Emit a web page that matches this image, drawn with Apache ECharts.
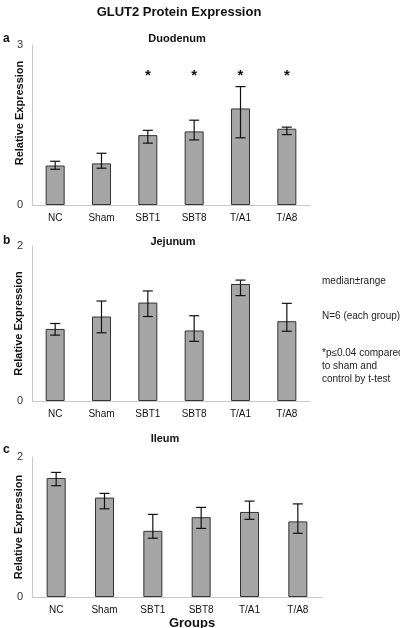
<!DOCTYPE html>
<html><head><meta charset="utf-8">
<script src="https://cdn.jsdelivr.net/npm/echarts@6/dist/echarts.min.js"></script>
<style>html,body{margin:0;padding:0;background:#fff}#c{width:400px;height:628px}</style>
</head><body><div id="c"></div>
<script>
const groups = ['NC','Sham','SBT1','SBT8','T/A1','T/A8'];
const ileumLabels = ['NC','Sham','SBT1','SBT8','T/A1','T/A8'];
// Duodenum
const duoMedian = [0.74, 0.78, 1.31, 1.38, 1.81, 1.43];
const duoLow    = [0.67, 0.69, 1.16, 1.22, 1.26, 1.32];
const duoHigh   = [0.82, 0.97, 1.40, 1.59, 2.22, 1.46];
const duoSig    = [false, false, true, true, true, true];
// Jejunum
const jejMedian = [0.93, 1.09, 1.27, 0.91, 1.51, 1.03];
const jejLow    = [0.85, 0.88, 1.09, 0.77, 1.36, 0.90];
const jejHigh   = [1.00, 1.29, 1.42, 1.10, 1.56, 1.26];
// Ileum
const ileMedian = [1.70, 1.42, 0.945, 1.14, 1.215, 1.08];
const ileLow    = [1.59, 1.26, 0.84, 0.98, 1.11, 0.91];
const ileHigh   = [1.78, 1.48, 1.18, 1.28, 1.37, 1.33];
const yMax = [3, 2, 2];

const chart = echarts.init(document.getElementById('c'));
const FONT = 'Liberation Sans, Arial, sans-serif';
const grids = [
  {left:32, width:278, top:45, height:160, outerBoundsMode:'none', containLabel:false},
  {left:32, width:278, top:246, height:155, outerBoundsMode:'none', containLabel:false},
  {left:32, width:290, top:457, height:140, outerBoundsMode:'none', containLabel:false}
];
function xAx(i, labels){
  return {type:'category', gridIndex:i, data:labels,
    axisLine:{lineStyle:{color:'#c8c8c8', width:1}}, axisTick:{show:false},
    axisLabel:{color:'#111', fontSize:10, fontFamily:FONT, margin:8}};
}
function yAx(i, withName){
  return {type:'value', gridIndex:i, min:0, max:yMax[i], interval:yMax[i],
    name: withName ? 'Relative Expression' : '', nameLocation:'middle', nameGap:8, nameRotate:90,
    nameMoveOverlap:false,
    nameTextStyle:{fontSize:11, fontWeight:'bold', fontFamily:FONT, color:'#111'},
    axisLine:{show:true, lineStyle:{color:'#c8c8c8'}}, axisTick:{show:false},
    splitLine:{show:false},
    axisLabel:{color:'#333', fontSize:11, fontFamily:FONT, margin:9}};
}
function bar(i, vals){
  return {type:'bar', xAxisIndex:i, yAxisIndex:i, data:vals, barWidth:19, z:2,
    itemStyle:{color:'#a6a6a6', borderColor:'#333', borderWidth:1}, silent:true};
}
function err(i, low, high){
  return {type:'custom', xAxisIndex:i, yAxisIndex:i, silent:true, z:5,
    data: low.map((l,k)=>[k,l,high[k]]),
    renderItem:function(params, api){
      const lo = api.coord([api.value(0), api.value(1)]);
      const hi = api.coord([api.value(0), api.value(2)]);
      const x = lo[0], hw = 5;
      const st = {stroke:'#111', lineWidth:1.2};
      return {type:'group', children:[
        {type:'line', shape:{x1:x,y1:lo[1],x2:x,y2:hi[1]}, style:st},
        {type:'line', shape:{x1:x-hw,y1:lo[1],x2:x+hw,y2:lo[1]}, style:st},
        {type:'line', shape:{x1:x-hw,y1:hi[1],x2:x+hw,y2:hi[1]}, style:st}
      ]};
    }};
}
function stars(i, sig){
  return {type:'custom', xAxisIndex:i, yAxisIndex:i, silent:true, z:5,
    data: sig.map((s,k)=>[k, s?1:0]),
    renderItem:function(params, api){
      if(!api.value(1)) return null;
      const p = api.coord([api.value(0), 2.42]);
      return {type:'text', style:{text:'*', x:p[0], y:p[1], align:'center', verticalAlign:'middle',
        font:'bold 15px '+FONT, fill:'#111'}};
    }};
}

chart.setOption({
  animation:false,
  grid: grids,
  xAxis:[xAx(0,groups), xAx(1,groups), xAx(2,ileumLabels)],
  yAxis:[yAx(0,false), yAx(1,true), yAx(2,true)],
  series:[bar(0,duoMedian), err(0,duoLow,duoHigh), stars(0,duoSig),
          bar(1,jejMedian), err(1,jejLow,jejHigh),
          bar(2,ileMedian), err(2,ileLow,ileHigh)],
  title:[
    {text:'GLUT2 Protein Expression', left:174, top:1, textAlign:'center',
     textStyle:{fontSize:13, fontWeight:'bold', fontFamily:FONT, color:'#111'}},
    {text:'Duodenum', left:172, top:28, textAlign:'center', textStyle:{fontSize:11, fontWeight:'bold', fontFamily:FONT, color:'#111'}},
    {text:'Jejunum', left:168, top:231, textAlign:'center', textStyle:{fontSize:11, fontWeight:'bold', fontFamily:FONT, color:'#111'}},
    {text:'Ileum', left:160, top:428, textAlign:'center', textStyle:{fontSize:11, fontWeight:'bold', fontFamily:FONT, color:'#111'}},
    {text:'Groups', left:187, top:612, textAlign:'center', textStyle:{fontSize:13, fontWeight:'bold', fontFamily:FONT, color:'#111'}}
  ],
  graphic:[
    {type:'text', x:20, y:113, rotation:Math.PI/2,
     style:{text:'Relative Expression', font:'bold 11px '+FONT, fill:'#111', align:'center', verticalAlign:'middle'}},
    {type:'text', left:3, top:33, style:{text:'a', font:'bold 12px '+FONT, fill:'#111'}},
    {type:'text', left:3, top:235, style:{text:'b', font:'bold 12px '+FONT, fill:'#111'}},
    {type:'text', left:3, top:444, style:{text:'c', font:'bold 12px '+FONT, fill:'#111'}},
    {type:'text', left:322, top:276, style:{text:'median\u00b1range', font:'10px '+FONT, fill:'#222'}},
    {type:'text', left:322, top:311, style:{text:'N=6 (each group)', font:'10px '+FONT, fill:'#222'}},
    {type:'text', left:322, top:347, style:{text:'*p\u22640.04 compared\nto sham and\ncontrol by t-test', font:'10px '+FONT, fill:'#222', lineHeight:13}}
  ]
});
</script></body></html>
